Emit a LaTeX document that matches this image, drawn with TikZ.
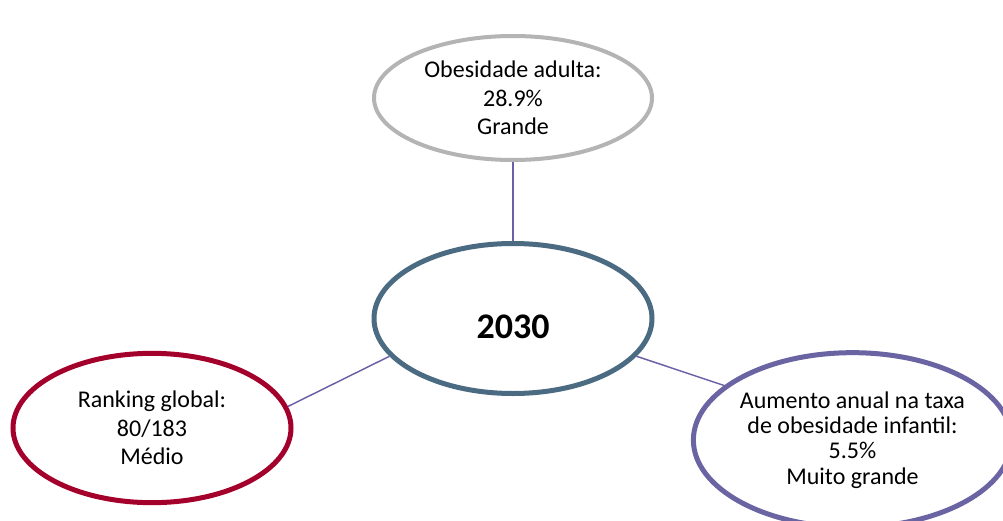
\documentclass[tikz,border=0pt]{standalone}
\usepackage{fontspec}
\setmainfont{Carlito}
\usetikzlibrary{shapes.geometric}

\definecolor{greyring}{HTML}{B4B4B4}
\definecolor{tealring}{HTML}{4A6B82}
\definecolor{redring}{HTML}{A3002B}
\definecolor{violetring}{HTML}{6A64A2}
\definecolor{linkcol}{HTML}{6B5FA6}

\tikzset{
  bubble/.style={ellipse, draw, fill=white, inner sep=0pt, align=center,
    font=\fontsize{18}{21.5}\selectfont},
  link/.style={draw=linkcol, line width=1.1pt}
}

\begin{document}
\begin{tikzpicture}[x=0.75pt,y=-0.75pt]
        \useasboundingbox (0,0) rectangle (1003,521);
        \clip (0,0) rectangle (1003,521);
        \node[bubble, draw=greyring, line width=3pt, minimum width=208.5pt, minimum height=93pt] (adult) at (513,98) {Obesidade adulta:\\28.9\%\\Grande};
        \node[bubble, draw=tealring, line width=3.75pt, minimum width=208.5pt, minimum height=112.5pt, text height=30pt, text depth=0pt, font=\fontsize{27}{32}\selectfont\bfseries] (year) at (513,318.5) {2030};
        \node[bubble, draw=redring, line width=3.75pt, minimum width=208.5pt, minimum height=112pt] (rank) at (152,428) {Ranking global:\\80/183\\Médio};
        \node[bubble, draw=violetring, line width=3.75pt, minimum width=234pt, minimum height=131pt, font=\fontsize{18}{19}\selectfont] (child) at (852.5,440) {Aumento anual na taxa\\de obesidade infantil:\\5.5\%\\Muito grande};
        \draw[link] (adult.south) -- (year.north);
        \draw[link] (rank.9) -- (year.197);
        \draw[link] (year.343) -- (child.157);
        \end{tikzpicture}
\end{document}
